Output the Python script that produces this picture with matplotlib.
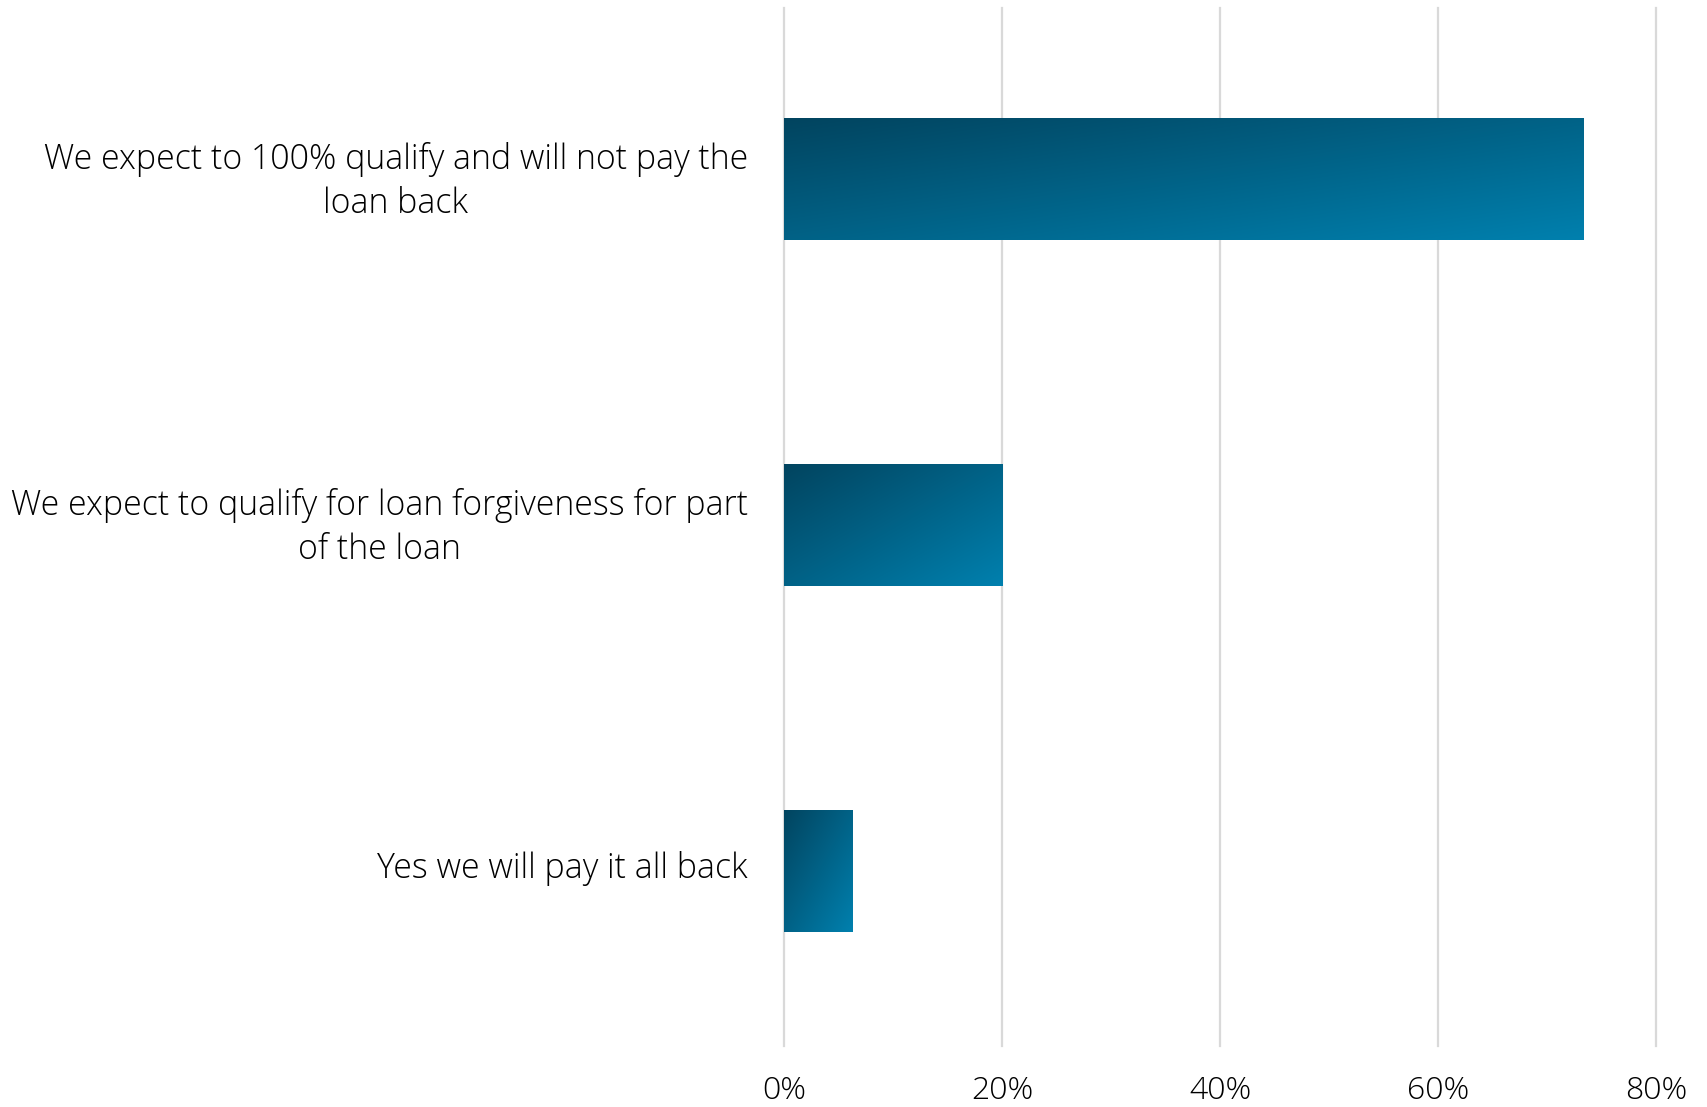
import numpy as np
import matplotlib.pyplot as plt
import matplotlib.transforms as mtransforms
from matplotlib.colors import LinearSegmentedColormap
from matplotlib.ticker import FuncFormatter

categories = [
    'We expect to 100% qualify and will not pay the\nloan back',
    'We expect to qualify for loan forgiveness for part\nof the loan',
    'Yes we will pay it all back',
]
shares = [0.733, 0.20, 0.063]
x_ticks = [0.0, 0.2, 0.4, 0.6, 0.8]

plt.rcParams['font.family'] = ['Open Sans', 'DejaVu Sans']
plt.rcParams['font.weight'] = 'light'

cmap = LinearSegmentedColormap.from_list('blue_grad', ['#02445f', '#0080ae'])

fig = plt.figure(figsize=(17.08, 11.07), dpi=100)
ax = fig.add_axes([0.459, 0.0551, 0.5106, 0.9377])

pos = np.arange(len(categories))
bars = ax.barh(pos, shares, height=0.353, color='none', edgecolor='none', zorder=3)

# diagonal gradient inside each bar, dark at top-left
gx, gy = np.meshgrid(np.linspace(0, 1, 200), np.linspace(0, 1, 200))
grad = (gx + gy) / 2
for b in bars:
    x0, y0 = b.get_x(), b.get_y()
    w, h = b.get_width(), b.get_height()
    im = ax.imshow(grad, cmap=cmap, extent=(x0, x0 + w, y0 + h, y0),
                   origin='upper', aspect='auto', zorder=3, interpolation='bilinear')
    im.set_clip_path(b)

ax.set_xlim(0, 0.8)
ax.set_ylim(2.506, -0.494)
ax.set_xticks(x_ticks)
ax.xaxis.set_major_formatter(FuncFormatter(lambda v, _: f'{v * 100:.0f}%'))
ax.set_yticks(pos)
ax.set_yticklabels(categories, multialignment='center', linespacing=1.38)
ax.tick_params(axis='x', length=0, pad=21, labelsize=23, labelcolor='#000000')
ax.tick_params(axis='y', length=0, pad=26, labelsize=24.4, labelcolor='#000000')
# nudge category labels up a little so they sit centred on the bars
shift = mtransforms.ScaledTranslation(0, 0.065, fig.dpi_scale_trans)
for lbl in ax.get_yticklabels():
    lbl.set_transform(lbl.get_transform() + shift)
ax.grid(axis='x', color='#d9d9d9', linewidth=1.6, zorder=0)
for g in ax.get_xgridlines():
    g.set_clip_on(False)
for s in ax.spines.values():
    s.set_visible(False)

fig.savefig('out.png', dpi=100, facecolor='white')
